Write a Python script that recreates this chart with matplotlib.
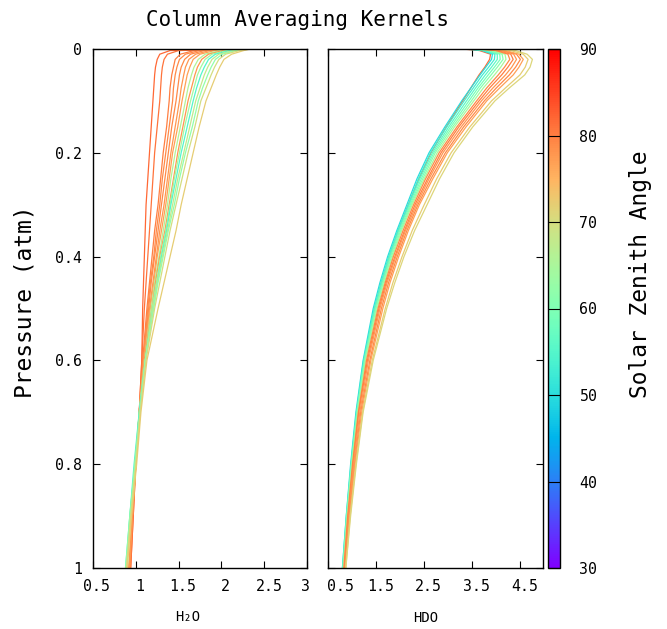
import numpy as np
import matplotlib
matplotlib.use("Agg")
import matplotlib.pyplot as plt
import matplotlib.transforms as mtransforms
from matplotlib import cm, colors

plt.rcParams['font.family'] = ['DejaVu Sans Mono', 'DejaVu Sans']

# -------- DATA --------
pressure = [0.0, 0.003, 0.01, 0.02, 0.035, 0.05, 0.075, 0.1, 0.15, 0.2, 0.25,
            0.3, 0.35, 0.4, 0.45, 0.5, 0.6, 0.7, 0.8, 0.9, 1.0]

# H2O kernels, one row per sounding
h2o_sza = [82, 81, 80, 79, 79, 78, 77, 66, 78, 64, 55, 68, 62, 70, 72]
h2o_kernels = [
    [2.25, 1.40, 1.28, 1.25, 1.23, 1.22, 1.21, 1.20, 1.18, 1.16, 1.14, 1.12, 1.11, 1.10, 1.09, 1.08, 1.07, 1.04, 1.00, 0.97, 0.94],
    [2.27, 1.50, 1.37, 1.33, 1.31, 1.30, 1.29, 1.28, 1.25, 1.22, 1.20, 1.18, 1.16, 1.14, 1.12, 1.10, 1.07, 1.04, 1.00, 0.97, 0.94],
    [2.28, 1.68, 1.52, 1.46, 1.44, 1.42, 1.40, 1.39, 1.36, 1.32, 1.29, 1.26, 1.22, 1.19, 1.16, 1.13, 1.08, 1.04, 1.00, 0.96, 0.93],
    [2.29, 1.74, 1.58, 1.51, 1.48, 1.46, 1.44, 1.43, 1.39, 1.35, 1.31, 1.28, 1.24, 1.21, 1.17, 1.14, 1.09, 1.04, 1.00, 0.96, 0.93],
    [2.29, 1.80, 1.64, 1.57, 1.53, 1.51, 1.49, 1.47, 1.42, 1.38, 1.34, 1.30, 1.26, 1.22, 1.18, 1.15, 1.09, 1.04, 1.00, 0.96, 0.93],
    [2.30, 1.86, 1.70, 1.62, 1.58, 1.56, 1.53, 1.51, 1.46, 1.41, 1.37, 1.33, 1.28, 1.24, 1.20, 1.16, 1.09, 1.04, 1.00, 0.96, 0.92],
    [2.31, 1.92, 1.75, 1.67, 1.63, 1.60, 1.57, 1.54, 1.49, 1.43, 1.39, 1.35, 1.30, 1.25, 1.21, 1.17, 1.10, 1.05, 1.00, 0.96, 0.92],
    [2.31, 1.98, 1.81, 1.73, 1.68, 1.65, 1.61, 1.58, 1.52, 1.46, 1.41, 1.37, 1.32, 1.27, 1.22, 1.18, 1.10, 1.04, 0.99, 0.94, 0.90],
    [2.32, 2.02, 1.85, 1.77, 1.72, 1.69, 1.65, 1.61, 1.55, 1.49, 1.44, 1.39, 1.34, 1.28, 1.23, 1.19, 1.10, 1.05, 1.00, 0.96, 0.92],
    [2.32, 2.06, 1.89, 1.81, 1.76, 1.72, 1.68, 1.64, 1.57, 1.51, 1.45, 1.40, 1.35, 1.29, 1.24, 1.19, 1.11, 1.04, 0.99, 0.93, 0.89],
    [2.33, 2.10, 1.93, 1.85, 1.80, 1.76, 1.71, 1.67, 1.60, 1.53, 1.47, 1.41, 1.36, 1.30, 1.25, 1.20, 1.11, 1.04, 0.98, 0.93, 0.88],
    [2.33, 2.14, 1.97, 1.89, 1.84, 1.80, 1.75, 1.70, 1.63, 1.56, 1.49, 1.43, 1.37, 1.31, 1.25, 1.20, 1.11, 1.05, 0.99, 0.94, 0.89],
    [2.33, 2.17, 2.01, 1.93, 1.88, 1.84, 1.78, 1.73, 1.66, 1.58, 1.51, 1.45, 1.38, 1.32, 1.26, 1.21, 1.11, 1.05, 0.99, 0.93, 0.88],
    [2.34, 2.21, 2.05, 1.97, 1.92, 1.88, 1.82, 1.76, 1.69, 1.61, 1.54, 1.47, 1.40, 1.34, 1.28, 1.22, 1.12, 1.05, 1.00, 0.94, 0.89],
    [2.34, 2.26, 2.12, 2.03, 1.98, 1.94, 1.88, 1.82, 1.74, 1.67, 1.60, 1.53, 1.47, 1.40, 1.33, 1.26, 1.13, 1.06, 1.01, 0.95, 0.90],
]

# HDO kernels
hdo_sza = [82, 50, 53, 56, 59, 61, 65, 79, 80, 78, 79, 77, 72, 71]
hdo_kernels = [
    [3.30, 3.65, 3.88, 3.86, 3.76, 3.64, 3.47, 3.30, 2.96, 2.64, 2.39, 2.17, 1.96, 1.78, 1.62, 1.47, 1.25, 1.10, 0.99, 0.90, 0.82],
    [3.35, 3.70, 3.92, 3.90, 3.78, 3.66, 3.47, 3.28, 2.93, 2.60, 2.35, 2.14, 1.93, 1.74, 1.58, 1.44, 1.23, 1.08, 0.97, 0.88, 0.80],
    [3.40, 3.74, 3.97, 3.96, 3.84, 3.71, 3.52, 3.33, 2.97, 2.63, 2.38, 2.17, 1.95, 1.76, 1.60, 1.46, 1.24, 1.09, 0.98, 0.88, 0.80],
    [3.45, 3.79, 4.02, 4.02, 3.90, 3.77, 3.57, 3.38, 3.01, 2.67, 2.41, 2.19, 1.97, 1.78, 1.62, 1.47, 1.25, 1.10, 0.98, 0.89, 0.81],
    [3.50, 3.84, 4.07, 4.08, 3.96, 3.83, 3.62, 3.43, 3.05, 2.70, 2.44, 2.21, 1.99, 1.80, 1.64, 1.49, 1.26, 1.10, 0.99, 0.89, 0.81],
    [3.55, 3.89, 4.12, 4.14, 4.02, 3.89, 3.67, 3.48, 3.09, 2.73, 2.47, 2.23, 2.01, 1.82, 1.65, 1.50, 1.27, 1.11, 0.99, 0.90, 0.82],
    [3.60, 3.94, 4.18, 4.20, 4.09, 3.96, 3.73, 3.53, 3.13, 2.77, 2.50, 2.25, 2.03, 1.84, 1.67, 1.52, 1.28, 1.12, 1.00, 0.90, 0.82],
    [3.65, 3.99, 4.24, 4.28, 4.17, 4.04, 3.80, 3.59, 3.18, 2.81, 2.53, 2.28, 2.06, 1.86, 1.69, 1.54, 1.30, 1.13, 1.01, 0.91, 0.83],
    [3.70, 4.04, 4.30, 4.35, 4.24, 4.11, 3.86, 3.64, 3.22, 2.85, 2.57, 2.31, 2.09, 1.89, 1.71, 1.56, 1.32, 1.14, 1.02, 0.92, 0.84],
    [3.75, 4.09, 4.36, 4.42, 4.32, 4.19, 3.93, 3.69, 3.27, 2.89, 2.60, 2.34, 2.11, 1.91, 1.73, 1.58, 1.34, 1.16, 1.03, 0.93, 0.85],
    [3.80, 4.14, 4.42, 4.50, 4.40, 4.27, 4.00, 3.75, 3.32, 2.94, 2.64, 2.37, 2.14, 1.94, 1.76, 1.61, 1.37, 1.18, 1.05, 0.94, 0.85],
    [3.85, 4.19, 4.47, 4.56, 4.47, 4.35, 4.07, 3.80, 3.37, 2.98, 2.68, 2.40, 2.17, 1.97, 1.79, 1.64, 1.39, 1.20, 1.06, 0.95, 0.86],
    [4.00, 4.30, 4.56, 4.66, 4.60, 4.49, 4.19, 3.90, 3.45, 3.06, 2.76, 2.50, 2.25, 2.04, 1.85, 1.69, 1.42, 1.22, 1.08, 0.96, 0.87],
    [4.10, 4.40, 4.64, 4.75, 4.70, 4.59, 4.27, 3.97, 3.51, 3.12, 2.82, 2.56, 2.30, 2.08, 1.89, 1.72, 1.44, 1.23, 1.09, 0.97, 0.87],
]

h2o_xticks = [0.5, 1, 1.5, 2, 2.5, 3]
hdo_xticks = [0.5, 1.5, 2.5, 3.5, 4.5]
p_ticks = [0, 0.2, 0.4, 0.6, 0.8, 1]
sza_ticks = [30, 40, 50, 60, 70, 80, 90]

# -------- FIGURE --------
W, H = 667, 629
fig = plt.figure(figsize=(W / 100, H / 100), dpi=100)


def px_box(x0, x1, y0, y1):
    # pixel box (top-left origin) -> figure fraction rect
    return [x0 / W, 1 - y1 / H, (x1 - x0) / W, (y1 - y0) / H]


ax1 = fig.add_axes(px_box(93, 307, 49, 568))
ax2 = fig.add_axes(px_box(328, 543, 49, 568))
cax = fig.add_axes(px_box(548, 560, 49, 568))

cmap = cm.rainbow
norm = colors.Normalize(vmin=30, vmax=90)

for sza, k in zip(h2o_sza, h2o_kernels):
    ax1.plot(k, pressure, color=cmap(norm(sza)), lw=0.9)
for sza, k in zip(hdo_sza, hdo_kernels):
    ax2.plot(k, pressure, color=cmap(norm(sza)), lw=0.9)

ax1.set_xlim(0.5, 3)
ax2.set_xlim(0.5, 4.97)
ax1.set_xticks(h2o_xticks)
ax1.set_xticklabels([f"{t:g}" for t in h2o_xticks])
ax2.set_xticks(hdo_xticks)
ax2.set_xticklabels([f"{t:g}" for t in hdo_xticks])

for ax in (ax1, ax2):
    ax.set_ylim(1, 0)
    ax.set_yticks(p_ticks)
    ax.tick_params(direction='in', length=5, width=0.8, top=True, right=True,
                   labelsize=10.7, pad=8, colors='black')
    for s in ax.spines.values():
        s.set_linewidth(1.0)
ax1.set_yticklabels([f"{t:g}" for t in p_ticks])
ax2.set_yticklabels([])

# gnuplot puts the x labels a few pixels right of the ticks
shifts1 = [4, 4, 4, 4, 5, -1]
shifts2 = [12, 5, 4, 4, 4]
for lab, dx in zip(ax1.get_xticklabels(), shifts1):
    lab.set_transform(lab.get_transform() + mtransforms.ScaledTranslation(dx / 100, 0, fig.dpi_scale_trans))
for lab, dx in zip(ax2.get_xticklabels(), shifts2):
    lab.set_transform(lab.get_transform() + mtransforms.ScaledTranslation(dx / 100, 0, fig.dpi_scale_trans))

cb = fig.colorbar(cm.ScalarMappable(norm=norm, cmap=cmap), cax=cax)
cb.set_ticks(sza_ticks)
cb.ax.tick_params(direction='in', length=8.6, width=0.8, labelsize=10.7, pad=14)
cb.outline.set_linewidth(1.0)

fig.text(297 / W, 1 - 20 / H, "Column Averaging Kernels", ha='center', va='center', fontsize=15)
fig.text(25 / W, 1 - 302 / H, "Pressure (atm)", rotation=90, ha='center', va='center', fontsize=16.5)
fig.text(641 / W, 1 - 274 / H, "Solar Zenith Angle", rotation=90, ha='center', va='center', fontsize=16.5)
fig.text(188 / W, 1 - 617 / H, "H\u2082O", ha='center', va='center', fontsize=10)
fig.text(426 / W, 1 - 618 / H, "HDO", ha='center', va='center', fontsize=10)

fig.savefig("out.png", dpi=100)
